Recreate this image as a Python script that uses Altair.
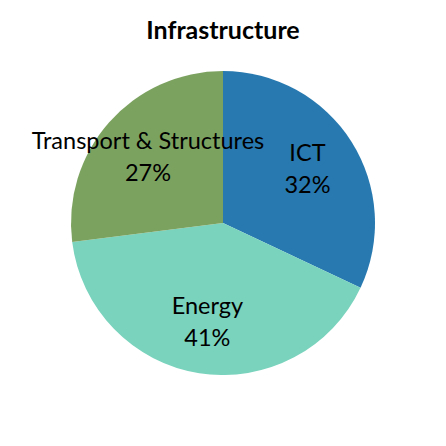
import altair as alt
import pandas as pd

categories = ["ICT", "Energy", "Transport & Structures"]
shares = [32, 41, 27]
colors = ["#2779b0", "#79d3bd", "#7ca260"]

df = pd.DataFrame({
    "category": categories,
    "share": shares,
    "rank": list(range(len(categories))),
})
df["label"] = [[c, f"{s}%"] for c, s in zip(categories, shares)]

base = alt.Chart(df).encode(
    theta=alt.Theta("share:Q", stack=True),
    order=alt.Order("rank:O"),
)

pie = base.mark_arc(outerRadius=152).encode(
    color=alt.Color(
        "category:N",
        scale=alt.Scale(domain=categories, range=colors),
        legend=None,
    )
)

labels = base.mark_text(
    radius=100, dy=-15, fontSize=23.5, font="Lato", color="black", lineHeight=32
).encode(text="label")

chart = (
    (pie + labels)
    .properties(
        width=430,
        height=304,
        padding={"top": 63, "left": 0, "right": 0, "bottom": 0},
        autosize=alt.AutoSizeParams(type="none"),
        title=alt.TitleParams(
            "Infrastructure", font="Lato", fontSize=25, fontWeight="bold",
            color="black", offset=27,
        ),
    )
    .configure_view(stroke=None)
)

chart.save("out.html", embed_options={"renderer": "svg", "actions": False})
